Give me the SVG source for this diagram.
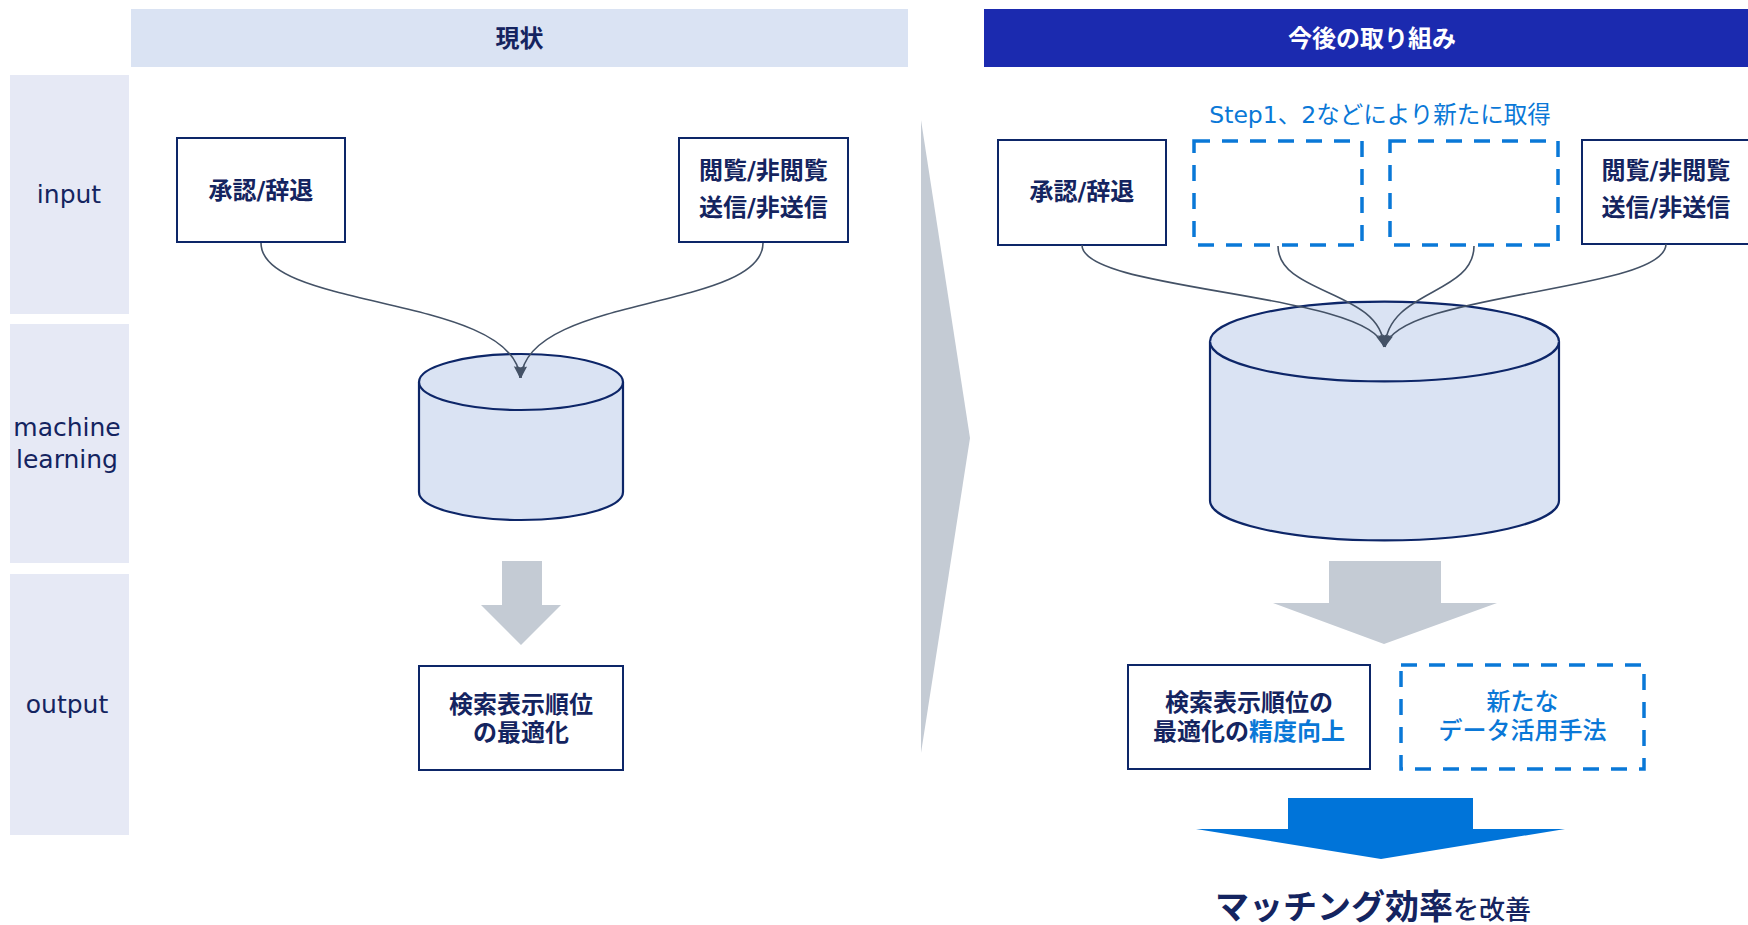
<svg xmlns="http://www.w3.org/2000/svg" width="1748" height="925" viewBox="0 0 1748 925">
<style>
  .jp { font-family: "DejaVu Sans", "Noto Sans CJK JP", sans-serif; }
  .bold { font-weight: 700; }
  .navy { fill: #142460; }
  .blue { fill: #0a78d7; }
  .box { fill: #ffffff; stroke: #0d2668; stroke-width: 2; }
  .dash { fill: #ffffff; stroke: #0a78d7; stroke-width: 3.5; stroke-dasharray: 16 12; }
  .cyl { fill: #dae3f3; stroke: #0d2668; stroke-width: 2.2; }
  .lane { fill: #e6e9f5; }
  .edge { fill: none; stroke: #445266; stroke-width: 1.6; marker-end: url(#arr); }
  .gray { fill: #c4cbd4; }
  .lbl { font-size: 25px; text-anchor: middle; }
  .t24 { font-size: 24px; text-anchor: middle; }
</style>
<defs>
  <marker id="arr" markerUnits="userSpaceOnUse" markerWidth="14" markerHeight="12" refX="12" refY="5.5" orient="auto">
    <path d="M0,0 L12,5.5 L0,11 L2,5.5 Z" fill="#445266"/>
  </marker>
</defs>
<rect width="1748" height="925" fill="#ffffff"/>

<g id="header-current">
  <rect x="131" y="9" width="777" height="58" fill="#dae3f3"/>
  <text x="519.5" y="47" class="jp bold navy t24">現状</text>
</g>
<g id="header-future">
  <rect x="984" y="9" width="764" height="58" fill="#1b2aaf"/>
  <text x="1372" y="47" class="jp bold t24" fill="#ffffff">今後の取り組み</text>
</g>

<g id="lane-input">
  <rect x="10" y="75" width="119" height="239" class="lane"/>
  <text x="69" y="203" class="jp navy lbl">input</text>
</g>
<g id="lane-ml">
  <rect x="10" y="324" width="119" height="239" class="lane"/>
  <text x="67" y="436" class="jp navy lbl">machine</text>
  <text x="67" y="468" class="jp navy lbl">learning</text>
</g>
<g id="lane-output">
  <rect x="10" y="574" width="119" height="261" class="lane"/>
  <text x="67" y="713" class="jp navy lbl">output</text>
</g>

<g id="chevron">
  <polygon points="921,120 970,438 921,753" class="gray"/>
</g>

<!-- left side -->
<g id="l-approve">
  <rect x="177" y="138" width="168" height="104" class="box"/>
  <text x="261" y="199" class="jp bold navy t24">承認/辞退</text>
</g>
<g id="l-view">
  <rect x="679" y="138" width="169" height="104" class="box"/>
  <text x="763.5" y="178.5" class="jp bold navy t24">閲覧/非閲覧</text>
  <text x="763.5" y="215.5" class="jp bold navy t24">送信/非送信</text>
</g>
<g id="l-db">
  <path class="cyl" d="M419,382 A102,28 0 0 1 623,382 L623,492 A102,28 0 0 1 419,492 Z"/>
  <path class="cyl" fill="none" d="M419,382 A102,28 0 0 0 623,382"/>
</g>
<g id="l-arrow">
  <polygon points="502,561 542,561 542,605 561,605 521,645 481,605 502,605" class="gray"/>
</g>
<g id="l-output">
  <rect x="419" y="666" width="204" height="104" class="box"/>
  <text x="521" y="713" class="jp bold navy t24">検索表示順位</text>
  <text x="521" y="741" class="jp bold navy t24">の最適化</text>
</g>

<!-- right side -->
<g id="r-step">
  <text x="1380" y="123" class="jp blue" font-size="23.5" text-anchor="middle">Step1、2などにより新たに取得</text>
</g>
<g id="r-approve">
  <rect x="998" y="140" width="168" height="105" class="box"/>
  <text x="1082" y="200" class="jp bold navy t24">承認/辞退</text>
</g>
<g id="r-new1">
  <rect x="1194" y="141" width="168" height="104" class="dash"/>
</g>
<g id="r-new2">
  <rect x="1390" y="141" width="168" height="104" class="dash"/>
</g>
<g id="r-view">
  <rect x="1582" y="140" width="168" height="104" class="box"/>
  <text x="1666" y="178.5" class="jp bold navy t24">閲覧/非閲覧</text>
  <text x="1666" y="215.5" class="jp bold navy t24">送信/非送信</text>
</g>
<g id="r-db">
  <path class="cyl" d="M1210,341.5 A174.5,40 0 0 1 1559,341.5 L1559,500.5 A174.5,40 0 0 1 1210,500.5 Z"/>
  <path class="cyl" fill="none" d="M1210,341.5 A174.5,40 0 0 0 1559,341.5"/>
</g>
<g id="r-arrow">
  <polygon points="1329,561 1441,561 1441,603 1497,603 1384,644 1273,603 1329,603" class="gray"/>
</g>
<g id="r-output">
  <rect x="1128" y="665" width="242" height="104" class="box"/>
  <text x="1249" y="711" class="jp bold navy t24">検索表示順位の</text>
  <text x="1249" y="740" class="jp bold navy t24">最適化の<tspan class="blue">精度向上</tspan></text>
</g>
<g id="r-newuse">
  <rect x="1401" y="665" width="243" height="104" class="dash"/>
  <text x="1522.5" y="710" class="jp blue t24" font-weight="500">新たな</text>
  <text x="1522.5" y="739" class="jp blue t24" font-weight="500">データ活用手法</text>
</g>
<g id="r-bigarrow">
  <polygon points="1288,798 1473,798 1473,829 1565,829 1381,859 1196,829 1288,829" fill="#0074d9"/>
</g>
<g id="r-result">
  <text x="1215" y="919" class="jp bold navy" font-size="34">マッチング効率<tspan font-size="26" font-weight="500">を改善</tspan></text>
</g>

<g id="connectors">
  <path class="edge" d="M261,243 C261,310 515,295 520,378"/>
  <path class="edge" d="M763,243 C763,310 526,295 521,378"/>
  <path class="edge" d="M1082,245 C1082,292 1372,292 1384,347"/>
  <path class="edge" d="M1278,246 C1278,295 1382,290 1384,347"/>
  <path class="edge" d="M1474,246 C1474,295 1387,290 1385,347"/>
  <path class="edge" d="M1666,244 C1666,292 1397,292 1385,347"/>
</g>
</svg>
